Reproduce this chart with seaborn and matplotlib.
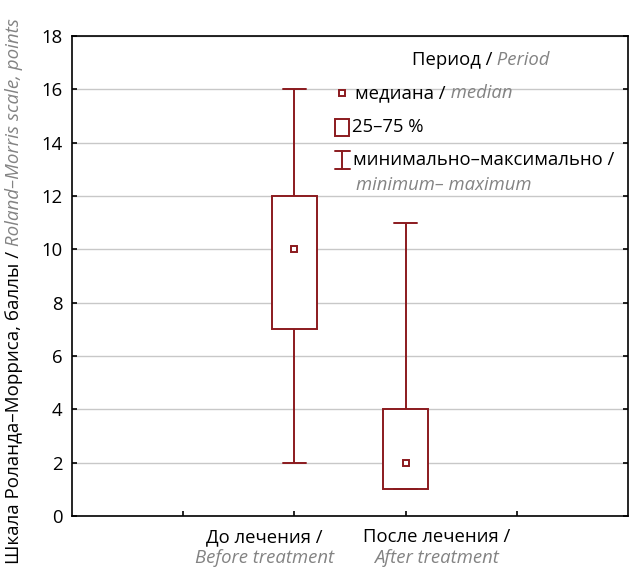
import matplotlib
matplotlib.use("Agg")
import matplotlib.pyplot as plt
import numpy as np
import pandas as pd
import seaborn as sns
from matplotlib.patches import Rectangle
from matplotlib.lines import Line2D

# ---- data (five-number summaries) ----
periods_ru = ["До лечения /", "После лечения /"]
periods_en = ["Before treatment", "After treatment"]
mins = [2, 1]
q1s = [7, 1]
medians = [10, 2]
q3s = [12, 4]
maxs = [16, 11]
y_ticks = [0, 2, 4, 6, 8, 10, 12, 14, 16, 18]

DARK = "#8b1a1e"
GRAY = "#838383"
GRID = "#c8c8c8"
FONT = ["Open Sans", "DejaVu Sans"]
FS = 13.3

sns.set_theme(style="white")
plt.rcParams["font.family"] = FONT
plt.rcParams["font.size"] = FS

rows = []
for i, p in enumerate(periods_ru):
    for v in (mins[i], q1s[i], medians[i], q3s[i], maxs[i]):
        rows.append({"period": p, "score": v})
df = pd.DataFrame(rows)
med_df = pd.DataFrame({"period": periods_ru, "median": medians})

fig = plt.figure(figsize=(6.3, 5.68), dpi=100)
ax = fig.add_axes([72 / 630, 1 - 516 / 568, 556 / 630, 480 / 568])

sns.boxplot(data=df, x="period", y="score", order=periods_ru, whis=(0, 100),
            width=0.4, color="white", linecolor=DARK, linewidth=1.4,
            saturation=1, showfliers=False, ax=ax,
            medianprops=dict(visible=False), zorder=3)
sns.pointplot(data=med_df, x="period", y="median", order=periods_ru,
              linestyle="none", marker="s", errorbar=None, color=DARK,
              markersize=5, markerfacecolor="white", markeredgecolor=DARK,
              markeredgewidth=1.4, ax=ax, zorder=5)

ax.set_xlim(-2, 3)
ax.set_ylim(0, 18)
ax.set_yticks(y_ticks)
ax.set_xticks([-1, 0, 1, 2])
ax.set_xticklabels(["", "", "", ""])
ax.set_xlabel("")
ax.set_ylabel("")
ax.yaxis.grid(True, color=GRID, linewidth=1.0)
ax.xaxis.grid(False)
ax.set_axisbelow(True)
for s in ax.spines.values():
    s.set_color("black")
    s.set_linewidth(1.2)
    s.set_visible(True)
ax.tick_params(axis="both", direction="in", length=3.5, width=1.2,
               color="black", labelsize=FS, labelcolor="black")
ax.tick_params(axis="y", right=True, left=True, pad=7)
ax.tick_params(axis="x", bottom=True, top=False)

# category labels (two styles, shifted apart as in the original)
label_shift = [-21.6, 22.3]
for i, (ru, en) in enumerate(zip(periods_ru, periods_en)):
    ax.annotate(ru, xy=(i, 0), xycoords=("data", "axes fraction"),
                xytext=(label_shift[i], -15.1), textcoords="offset points",
                ha="center", va="center", color="black", fontsize=FS)
    ax.annotate(en, xy=(i, 0), xycoords=("data", "axes fraction"),
                xytext=(label_shift[i], -30.2), textcoords="offset points",
                ha="center", va="center", color=GRAY, style="italic",
                fontsize=FS)

# ---- y label (two styles) ----
ylab = fig.text(14 / 630, 1 - 564 / 568, "Шкала Роланда–Морриса, баллы /",
                rotation=90, ha="center", va="bottom", color="black",
                fontsize=13.5)
ax.annotate(" Roland–Morris scale, points", xy=(0.5, 1), xycoords=ylab,
            rotation=90, ha="center", va="bottom", color=GRAY,
            style="italic", fontsize=13.5, annotation_clip=False)

# ---- manual legend ----
def ax_xy(px, py):
    return ((px - 72) / 556, (516 - py) / 480)

t = ax.text(*ax_xy(412, 60), "Период /", transform=ax.transAxes,
            ha="left", va="center", color="black", fontsize=FS)
ax.annotate(" Period", xy=(1, 0), xycoords=t, ha="left", va="bottom",
            color=GRAY, style="italic", fontsize=FS)

# median symbol
ax.add_line(Line2D([ax_xy(342, 93)[0]], [ax_xy(342, 93)[1]],
                   transform=ax.transAxes, marker="s", markersize=5,
                   markerfacecolor="white", markeredgecolor=DARK,
                   markeredgewidth=1.4, linestyle="none", zorder=6))
t = ax.text(*ax_xy(355, 93), "медиана /", transform=ax.transAxes,
            ha="left", va="center", color="black", fontsize=FS)
ax.annotate(" median", xy=(1, 0), xycoords=t, ha="left", va="bottom",
            color=GRAY, style="italic", fontsize=FS)

# box symbol
x0, y0 = ax_xy(335, 136)
ax.add_patch(Rectangle((x0, y0), 14 / 556, 17 / 480, transform=ax.transAxes,
                       facecolor="white", edgecolor=DARK, linewidth=1.4,
                       zorder=6))
ax.text(*ax_xy(352, 127), "25–75 %", transform=ax.transAxes,
        ha="left", va="center", color="black", fontsize=FS)

# whisker symbol
xa, ya = ax_xy(342, 151)
xb, yb = ax_xy(342, 169)
cw = 7.5 / 556
ax.add_line(Line2D([xa, xb], [ya, yb], transform=ax.transAxes,
                   color=DARK, linewidth=1.4, zorder=6))
for yy in (ya, yb):
    ax.add_line(Line2D([xa - cw, xa + cw], [yy, yy], transform=ax.transAxes,
                       color=DARK, linewidth=1.4, zorder=6))
ax.text(*ax_xy(353, 160), "минимально–максимально /", transform=ax.transAxes,
        ha="left", va="center", color="black", fontsize=FS)
ax.text(*ax_xy(356, 185), "minimum– maximum", transform=ax.transAxes,
        ha="left", va="center", color=GRAY, style="italic", fontsize=FS)

fig.savefig("out.png", dpi=100)
